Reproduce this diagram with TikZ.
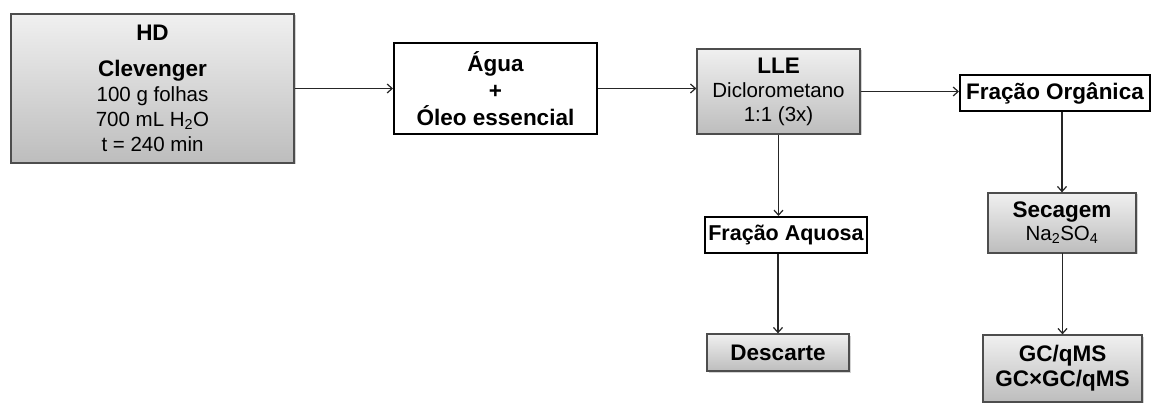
\documentclass[tikz,border=0pt]{standalone}
\usepackage{fontspec}
\setmainfont{Liberation Sans}
\usetikzlibrary{arrows.meta,shadows}
\definecolor{boxline}{HTML}{4D4D4D}
\definecolor{gtop}{HTML}{F0F0F0}
\definecolor{gbot}{HTML}{BDBDBD}
\tikzset{
  graybox/.style={draw=boxline, line width=1.3pt, top color=gtop, bottom color=gbot,
    drop shadow={shadow xshift=1.5pt, shadow yshift=-1.5pt, opacity=0.35},
    align=center, inner sep=0pt, text=black},
  whitebox/.style={draw=black, line width=2pt, fill=white, align=center, inner sep=0pt},
  conn/.style={draw=black!85, line width=1.2pt, -{Straight Barb[length=5pt,width=9pt,line width=1.2pt]}},
  big/.style={font=\fontsize{22.5}{27}\selectfont\bfseries},
}
\newcommand{\reg}{\fontsize{20.5}{25}\selectfont\mdseries}
\begin{document}
\begin{tikzpicture}[x=1pt,y=-1pt]
\useasboundingbox (0,0) rectangle (1151,403);
\clip (0,0) rectangle (1151,403);
\node[graybox, minimum width=283pt, minimum height=149pt, font=\fontsize{22.5}{25}\selectfont\bfseries] (hd) at (152.5,88.5)
  {HD\\[11pt]Clevenger\\{\reg 100 g folhas}\\{\reg 700 mL H\textsubscript{2}O}\\{\reg t = 240 min}};
\node[whitebox, big, minimum width=203pt, minimum height=91pt] (agua) at (495.5,88.5)
  {Água\\+\\Óleo essencial};
\node[graybox, minimum width=163pt, minimum height=85pt, font=\fontsize{20.5}{24}\selectfont] (lle) at (778.5,91.5)
  {{\fontsize{22.5}{24}\selectfont\bfseries LLE}\\Diclorometano\\1:1 (3x)};
\node[whitebox, big, minimum width=190pt, minimum height=36pt] (fo) at (1055,93)
  {Fração Orgânica};
\node[whitebox, big, minimum width=162pt, minimum height=36pt, font=\fontsize{21.5}{25}\selectfont\bfseries] (fa) at (786,235)
  {Fração Aquosa};
\node[graybox, big, minimum width=142pt, minimum height=37pt] (desc) at (778,352.5)
  {Descarte};
\node[graybox, minimum width=148pt, minimum height=60pt, font=\fontsize{20.5}{23}\selectfont] (sec) at (1062,223)
  {{\fontsize{22.5}{23}\selectfont\bfseries Secagem}\\Na\textsubscript{2}SO\textsubscript{4}};
\node[graybox, minimum width=159pt, minimum height=67pt, font=\fontsize{22.5}{25}\selectfont\bfseries] (gc) at (1062.5,368.5)
  {GC/qMS\\GC×GC/qMS};
\draw[conn] (hd.east) -- (agua.west);
\draw[conn] (agua.east) -- (agua.east -| lle.west);
\draw[conn] (lle.east) -- (lle.east -| fo.west);
\draw[conn] (lle.south) -- (lle.south |- fa.north);
\draw[conn] (desc.north |- fa.south) -- (desc.north);
\draw[conn] (fo.south -| sec.north) -- (sec.north);
\draw[conn] (sec.south) -- (sec.south -| gc.north) -- (gc.north);
\end{tikzpicture}
\end{document}
